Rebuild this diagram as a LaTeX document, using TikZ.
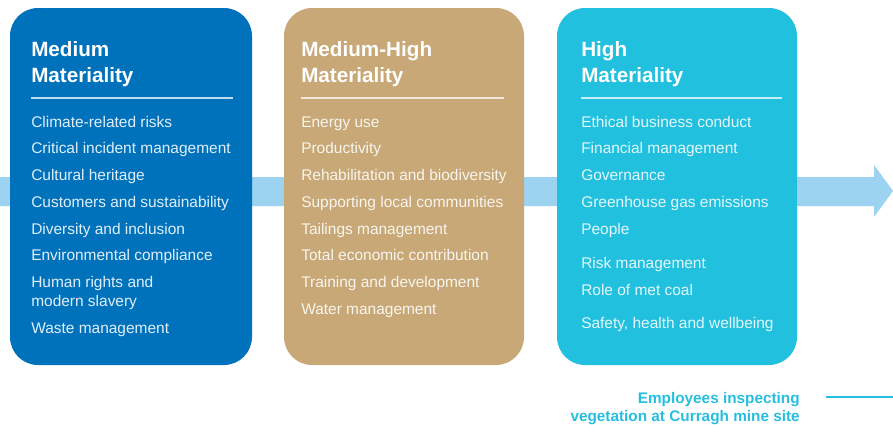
\documentclass[tikz,border=0pt]{standalone}
\usepackage{fontspec}
\setmainfont{Liberation Sans}
\usetikzlibrary{calc}
\definecolor{medBlue}{RGB}{0,114,188}
\definecolor{medTan}{RGB}{200,168,118}
\definecolor{highCyan}{RGB}{33,192,222}
\definecolor{bandBlue}{RGB}{155,211,241}
\definecolor{capCyan}{RGB}{38,190,222}

\begin{document}
\begin{tikzpicture}[x=0.75pt,y=-0.75pt]
%styles
\tikzstyle{box}=[rounded corners=21pt]
\tikzstyle{title}=[anchor=base west, inner sep=0pt, text=white, align=left, font=\bfseries\fontsize{15.5}{19.5}\selectfont]
\tikzstyle{item}=[anchor=base west, inner sep=0pt, align=left, font=\fontsize{11.6}{14.2}\selectfont]
\tikzstyle{rule}=[line width=0.8pt]
\tikzstyle{caption}=[anchor=base east, inner sep=0pt, text=capCyan, font=\bfseries\fontsize{11.5}{13.5}\selectfont]
\useasboundingbox (0,0) rectangle (893,425);

%bande
\fill[bandBlue] (0,177) -- (874,177) -- (874,165) -- (893,191) -- (874,217) -- (874,206) -- (0,206) -- cycle;

%figure
\begin{scope}[shift={(10,0)}]
\fill[box, medBlue] (0,8) rectangle (242,365);
\node[title] (medT) at (21,82) {Medium\\Materiality};
\coordinate (medL) at (21,98);
\coordinate (medR) at (223,98);
\draw[rule, white!75!medBlue] (medL) -- (medR);
\node[item, text=white!88!medBlue] (med1) at (21,127) {Climate-related risks};
\node[item, text=white!88!medBlue] (med2) at (21,153) {Critical incident management};
\node[item, text=white!88!medBlue] (med3) at (21,180) {Cultural heritage};
\node[item, text=white!88!medBlue] (med4) at (21,207) {Customers and sustainability};
\node[item, text=white!88!medBlue] (med5) at (21,234) {Diversity and inclusion};
\node[item, text=white!88!medBlue] (med6) at (21,260) {Environmental compliance};
\node[item, text=white!88!medBlue] (med7) at (21,306) {Human rights and\\modern slavery};
\node[item, text=white!88!medBlue] (med8) at (21,333) {Waste management};
\end{scope}

\begin{scope}[shift={(284,0)}]
\fill[box, medTan] (0,8) rectangle (240,365);
\node[title] (mhT) at (17,82) {Medium-High\\Materiality};
\coordinate (mhL) at (17,98);
\coordinate (mhR) at (220,98);
\draw[rule, white!75!medTan] (mhL) -- (mhR);
\node[item, text=white!88!medTan] (mh1) at (17,127) {Energy use};
\node[item, text=white!88!medTan] (mh2) at (17,153) {Productivity};
\node[item, text=white!88!medTan] (mh3) at (17,180) {Rehabilitation and biodiversity};
\node[item, text=white!88!medTan] (mh4) at (17,207) {Supporting local communities};
\node[item, text=white!88!medTan] (mh5) at (17,234) {Tailings management};
\node[item, text=white!88!medTan] (mh6) at (17,260) {Total economic contribution};
\node[item, text=white!88!medTan] (mh7) at (17,287) {Training and development};
\node[item, text=white!88!medTan] (mh8) at (17,314) {Water management};
\end{scope}

\begin{scope}[shift={(557,0)}]
\fill[box, highCyan] (0,8) rectangle (240,365);
\node[title] (hiT) at (24,82) {High\\Materiality};
\coordinate (hiL) at (24,98);
\coordinate (hiR) at (225,98);
\draw[rule, white!75!highCyan] (hiL) -- (hiR);
\node[item, text=white!88!highCyan] (hi1) at (24,127) {Ethical business conduct};
\node[item, text=white!88!highCyan] (hi2) at (24,153) {Financial management};
\node[item, text=white!88!highCyan] (hi3) at (24,180) {Governance};
\node[item, text=white!88!highCyan] (hi4) at (24,207) {Greenhouse gas emissions};
\node[item, text=white!88!highCyan] (hi5) at (24,234) {People};
\node[item, text=white!88!highCyan] (hi6) at (24,268) {Risk management};
\node[item, text=white!88!highCyan] (hi7) at (24,295) {Role of met coal};
\node[item, text=white!88!highCyan] (hi8) at (24,328) {Safety, health and wellbeing};
\end{scope}

%legende
\node[caption] (cap1) at (800,403) {Employees inspecting};
\node[caption] (cap2) at (800,421) {vegetation at Curragh mine site};
\coordinate (capL) at (826,397);
\coordinate (capR) at (893,397);
\draw[capCyan, line width=1.2pt] (capL) -- (capR);
\end{tikzpicture}
\end{document}
